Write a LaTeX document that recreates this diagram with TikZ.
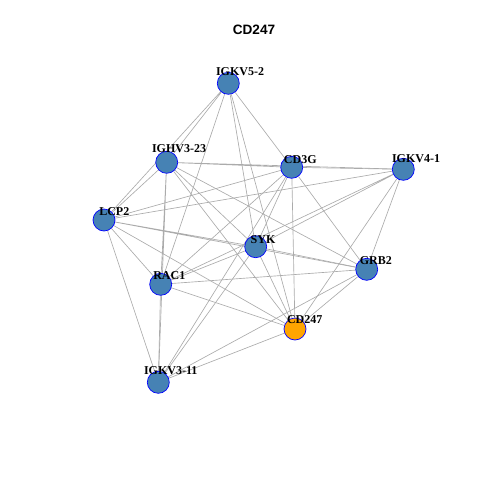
\documentclass[tikz,border=0pt]{standalone}
\usepackage{fontspec}
\setmainfont{Liberation Serif}
\setsansfont{Liberation Sans}
\usetikzlibrary{backgrounds}
\definecolor{steel}{HTML}{4682B4}
\definecolor{hubor}{HTML}{FFA500}
\definecolor{edgegray}{HTML}{ABABAB}
\begin{document}
\begin{tikzpicture}[x=1pt,y=-1pt,
	vert/.style={circle,draw=blue,line width=0.7pt,fill=steel,minimum size=22pt,inner sep=0pt},
	hub/.style={vert,fill=hubor},
	lab/.style={font=\bfseries\fontsize{12}{14}\selectfont,inner sep=0pt},
	edge/.style={draw=edgegray,line width=0.65pt}]
	\useasboundingbox (0,0) rectangle (480,480);
	\node[font=\sffamily\bfseries\fontsize{13.6}{16}\selectfont] (title) at (254,30.3) {CD247};
	
	\node[vert] (kv52) at (228.3,83.3) {};
	\node[vert] (hv323) at (166.7,162.3) {};
	\node[vert] (cd3g) at (291.7,167.3) {};
	\node[vert] (kv41) at (403.3,169.3) {};
	\node[vert] (lcp2) at (104,220) {};
	\node[vert] (syk) at (255.7,246.7) {};
	\node[vert] (grb2) at (366.7,269.3) {};
	\node[vert] (rac1) at (160.7,284.3) {};
	\node[hub] (cd247) at (295,329) {};
	\node[vert] (kv311) at (158.3,382.3) {};
	
	\begin{pgfonlayer}{background}
		\draw[edge] (kv52)--(hv323) (kv52)--(cd3g) (kv52)--(lcp2) (kv52)--(syk) (kv52)--(rac1) (kv52)--(cd247);
		\draw[edge] (hv323)--(cd3g) (hv323)--(kv41) (hv323)--(lcp2) (hv323)--(syk) (hv323)--(grb2) (hv323)--(rac1) (hv323)--(cd247) (hv323)--(kv311);
		\draw[edge] (cd3g)--(kv41) (cd3g)--(lcp2) (cd3g)--(syk) (cd3g)--(grb2) (cd3g)--(rac1) (cd3g)--(cd247) (cd3g)--(kv311);
		\draw[edge] (kv41)--(lcp2) (kv41)--(syk) (kv41)--(grb2) (kv41)--(rac1) (kv41)--(cd247);
		\draw[edge] (lcp2)--(syk) (lcp2)--(grb2) (lcp2)--(rac1) (lcp2)--(cd247) (lcp2)--(kv311);
		\draw[edge] (syk)--(grb2) (syk)--(rac1) (syk)--(cd247) (syk)--(kv311);
		\draw[edge] (grb2)--(rac1) (grb2)--(cd247) (grb2)--(kv311);
		\draw[edge] (rac1)--(cd247) (rac1)--(kv311);
		\draw[edge] (cd247)--(kv311);
	\end{pgfonlayer}
	
	\node[lab] at (240,71.3) {IGKV5-2};
	\node[lab] at (179,149) {IGHV3-23};
	\node[lab] at (300.3,160) {CD3G};
	\node[lab] at (416,158.7) {IGKV4-1};
	\node[lab] at (114.3,211.7) {LCP2};
	\node[lab] at (263,239.8) {SYK};
	\node[lab] at (375.8,260.5) {GRB2};
	\node[lab] at (169.3,276) {RAC1};
	\node[lab] at (304.7,319.5) {CD247};
	\node[lab] at (170.7,371) {IGKV3-11};
\end{tikzpicture}
\end{document}
